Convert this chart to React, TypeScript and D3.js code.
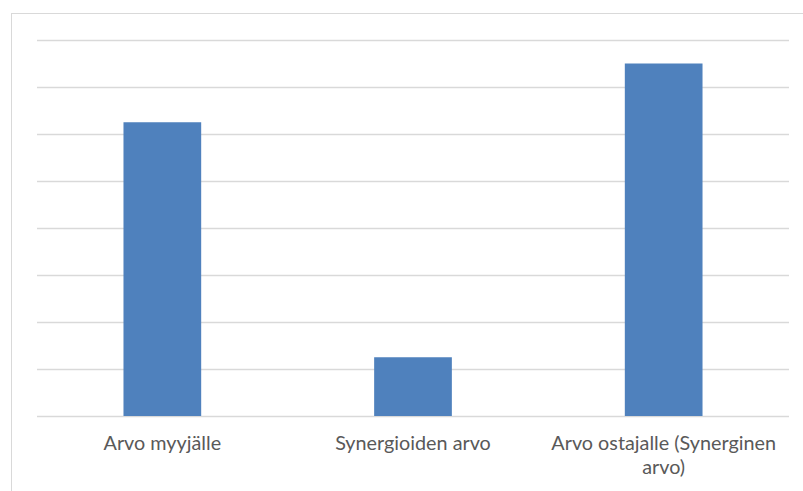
import React, { useRef, useEffect } from 'react';
import * as d3 from 'd3';

const categories = ['Arvo myyjälle', 'Synergioiden arvo', 'Arvo ostajalle (Synerginen arvo)'];
const values = [6.25, 1.25, 7.5];
const gridTicks = [0, 1, 2, 3, 4, 5, 6, 7, 8];

const WIDTH = 803;
const HEIGHT = 491;

const App: React.FC = () => {
  const ref = useRef<SVGSVGElement>(null);

  useEffect(() => {
    const svg = d3.select(ref.current);
    svg.selectAll('*').remove();

    const left = 37, right = 789, top = 40, bottom = 416;

    const x = d3.scaleBand<string>()
      .domain(categories)
      .range([left, right])
      .padding(0);

    const y = d3.scaleLinear()
      .domain([0, 8])
      .range([bottom, top]);

    // outer chart frame
    svg.append('rect')
      .attr('x', 11.5)
      .attr('y', 13.5)
      .attr('width', 820)
      .attr('height', 520)
      .attr('fill', '#fff')
      .attr('stroke', '#d9d9d9');

    svg.append('g')
      .selectAll('line')
      .data(gridTicks)
      .join('line')
      .attr('x1', left)
      .attr('x2', right)
      .attr('y1', d => Math.round(y(d)) + 0.5)
      .attr('y2', d => Math.round(y(d)) + 0.5)
      .attr('stroke', '#d9d9d9')
      .attr('stroke-width', 1.4);

    const barW = x.bandwidth() * 0.31;
    svg.append('g')
      .selectAll('rect')
      .data(values)
      .join('rect')
      .attr('x', (d, i) => x(categories[i])! + x.bandwidth() / 2 - barW / 2)
      .attr('y', d => y(d))
      .attr('width', barW)
      .attr('height', d => bottom - y(d))
      .attr('fill', '#4f81bd');

    // category labels, wrapped to the band width
    const labels = svg.append('g')
      .attr('font-family', 'Lato, "Liberation Sans", sans-serif')
      .attr('font-size', 19.8)
      .attr('fill', '#595959')
      .attr('text-anchor', 'middle');

    categories.forEach(c => {
      const cx = x(c)! + x.bandwidth() / 2;
      const text = labels.append('text').attr('x', cx).attr('y', 450);
      const words = c.split(' ');
      let line: string[] = [];
      let lineNo = 0;
      let tspan = text.append('tspan').attr('x', cx).attr('y', 450);
      words.forEach(w => {
        line.push(w);
        tspan.text(line.join(' '));
        if ((tspan.node() as SVGTSpanElement).getComputedTextLength() > x.bandwidth() - 10 && line.length > 1) {
          line.pop();
          tspan.text(line.join(' '));
          line = [w];
          lineNo += 1;
          tspan = text.append('tspan').attr('x', cx).attr('y', 450 + lineNo * 24).text(w);
        }
      });
    });
  }, []);

  return (
    <svg ref={ref} width={WIDTH} height={HEIGHT}
      style={{ position: 'absolute', left: 0, top: 0, background: '#fff' }} />
  );
};

export default App;
